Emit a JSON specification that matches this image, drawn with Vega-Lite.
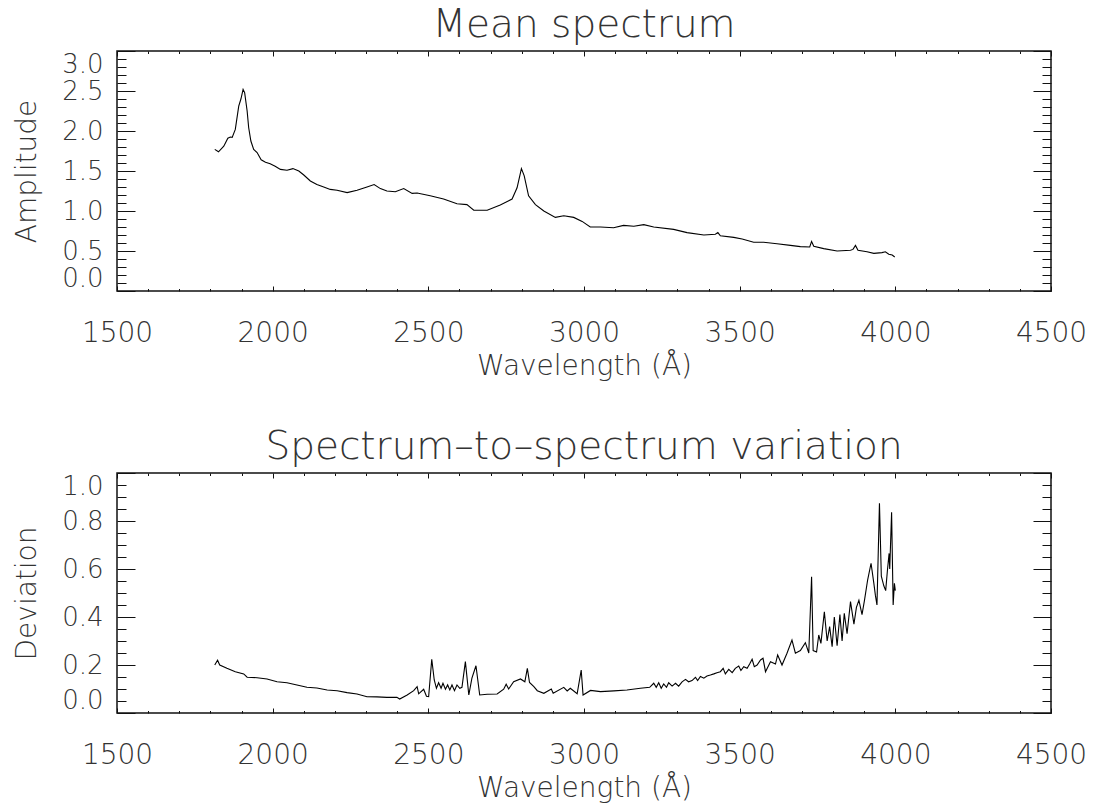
{
  "$schema": "https://vega.github.io/schema/vega-lite/v6.json",
  "padding": {"left": 12, "top": 4, "right": 5, "bottom": 5},
  "spacing": 45,
  "config": {
    "font": "DejaVu Sans",
    "view": {"stroke": "#111", "strokeWidth": 1.5},
    "axis": {"domain": false, "grid": false, "labelFont": "DejaVu Sans", "labelFontSize": 28, "labelFontWeight": 200, "labelColor": "#333", "titleFont": "DejaVu Sans", "titleFontSize": 28, "titleFontWeight": 200, "titleColor": "#333", "tickColor": "#111", "tickWidth": 1, "labelOverlap": false},
    "title": {"font": "DejaVu Sans", "fontSize": 39, "fontWeight": 200, "color": "#333", "offset": 6}
  },
  "datasets": {
    "mean": [
      {"w":1814,"a":1.77},{"w":1826,"a":1.74},{"w":1843,"a":1.81},{"w":1856,"a":1.91},{"w":1864,"a":1.925},{"w":1870,"a":1.92},{"w":1880,"a":2.02},{"w":1891,"a":2.31},{"w":1898,"a":2.40},{"w":1905,"a":2.52},{"w":1910,"a":2.48},{"w":1918,"a":2.25},{"w":1923,"a":2.04},{"w":1930,"a":1.875},{"w":1939,"a":1.77},{"w":1950,"a":1.73},{"w":1963,"a":1.64},{"w":1977,"a":1.61},{"w":1992,"a":1.59},{"w":2008,"a":1.56},{"w":2025,"a":1.52},{"w":2046,"a":1.51},{"w":2065,"a":1.53},{"w":2084,"a":1.50},{"w":2100,"a":1.45},{"w":2121,"a":1.375},{"w":2142,"a":1.33},{"w":2164,"a":1.30},{"w":2185,"a":1.27},{"w":2207,"a":1.26},{"w":2239,"a":1.23},{"w":2271,"a":1.26},{"w":2303,"a":1.30},{"w":2326,"a":1.33},{"w":2346,"a":1.28},{"w":2367,"a":1.25},{"w":2394,"a":1.24},{"w":2421,"a":1.28},{"w":2448,"a":1.22},{"w":2464,"a":1.225},{"w":2506,"a":1.19},{"w":2549,"a":1.15},{"w":2592,"a":1.09},{"w":2624,"a":1.08},{"w":2646,"a":1.01},{"w":2689,"a":1.01},{"w":2731,"a":1.075},{"w":2769,"a":1.15},{"w":2785,"a":1.29},{"w":2799,"a":1.53},{"w":2808,"a":1.44},{"w":2822,"a":1.19},{"w":2844,"a":1.08},{"w":2871,"a":1.00},{"w":2908,"a":0.92},{"w":2935,"a":0.94},{"w":2967,"a":0.92},{"w":2994,"a":0.87},{"w":3020,"a":0.80},{"w":3053,"a":0.80},{"w":3095,"a":0.79},{"w":3127,"a":0.82},{"w":3160,"a":0.81},{"w":3192,"a":0.83},{"w":3224,"a":0.80},{"w":3288,"a":0.77},{"w":3331,"a":0.73},{"w":3385,"a":0.70},{"w":3422,"a":0.71},{"w":3430,"a":0.73},{"w":3438,"a":0.69},{"w":3481,"a":0.67},{"w":3508,"a":0.65},{"w":3545,"a":0.61},{"w":3577,"a":0.61},{"w":3620,"a":0.59},{"w":3663,"a":0.57},{"w":3695,"a":0.555},{"w":3725,"a":0.55},{"w":3731,"a":0.62},{"w":3738,"a":0.56},{"w":3770,"a":0.53},{"w":3813,"a":0.50},{"w":3856,"a":0.51},{"w":3864,"a":0.52},{"w":3872,"a":0.57},{"w":3880,"a":0.51},{"w":3909,"a":0.49},{"w":3931,"a":0.47},{"w":3957,"a":0.48},{"w":3968,"a":0.49},{"w":3979,"a":0.46},{"w":3990,"a":0.45},{"w":3998,"a":0.425}
    ],
    "dev": [
      {"w":1814,"d":0.20},{"w":1823,"d":0.22},{"w":1830,"d":0.20},{"w":1853,"d":0.186},{"w":1880,"d":0.172},{"w":1907,"d":0.163},{"w":1918,"d":0.149},{"w":1950,"d":0.147},{"w":1982,"d":0.142},{"w":2014,"d":0.13},{"w":2046,"d":0.126},{"w":2078,"d":0.117},{"w":2110,"d":0.107},{"w":2142,"d":0.104},{"w":2175,"d":0.096},{"w":2207,"d":0.093},{"w":2239,"d":0.085},{"w":2271,"d":0.079},{"w":2303,"d":0.068},{"w":2335,"d":0.067},{"w":2367,"d":0.065},{"w":2399,"d":0.065},{"w":2408,"d":0.058},{"w":2432,"d":0.075},{"w":2453,"d":0.093},{"w":2464,"d":0.11},{"w":2469,"d":0.08},{"w":2485,"d":0.099},{"w":2494,"d":0.07},{"w":2501,"d":0.068},{"w":2511,"d":0.224},{"w":2519,"d":0.1375},{"w":2526,"d":0.103},{"w":2533,"d":0.126},{"w":2541,"d":0.103},{"w":2547,"d":0.124},{"w":2555,"d":0.099},{"w":2562,"d":0.117},{"w":2569,"d":0.096},{"w":2576,"d":0.117},{"w":2584,"d":0.093},{"w":2592,"d":0.117},{"w":2601,"d":0.103},{"w":2608,"d":0.107},{"w":2619,"d":0.214},{"w":2630,"d":0.075},{"w":2640,"d":0.145},{"w":2653,"d":0.197},{"w":2665,"d":0.075},{"w":2689,"d":0.078},{"w":2721,"d":0.079},{"w":2742,"d":0.099},{"w":2750,"d":0.12},{"w":2758,"d":0.10},{"w":2774,"d":0.13},{"w":2796,"d":0.142},{"w":2810,"d":0.13},{"w":2818,"d":0.186},{"w":2825,"d":0.127},{"w":2839,"d":0.11},{"w":2850,"d":0.093},{"w":2871,"d":0.082},{"w":2895,"d":0.10},{"w":2901,"d":0.082},{"w":2935,"d":0.107},{"w":2946,"d":0.092},{"w":2956,"d":0.103},{"w":2978,"d":0.08},{"w":2991,"d":0.179},{"w":2997,"d":0.075},{"w":3021,"d":0.094},{"w":3053,"d":0.089},{"w":3096,"d":0.092},{"w":3138,"d":0.096},{"w":3181,"d":0.103},{"w":3211,"d":0.107},{"w":3224,"d":0.124},{"w":3232,"d":0.107},{"w":3240,"d":0.126},{"w":3248,"d":0.103},{"w":3256,"d":0.121},{"w":3265,"d":0.107},{"w":3272,"d":0.126},{"w":3283,"d":0.112},{"w":3294,"d":0.124},{"w":3304,"d":0.112},{"w":3315,"d":0.13},{"w":3326,"d":0.14},{"w":3336,"d":0.13},{"w":3347,"d":0.135},{"w":3358,"d":0.149},{"w":3365,"d":0.135},{"w":3374,"d":0.152},{"w":3385,"d":0.145},{"w":3395,"d":0.154},{"w":3406,"d":0.158},{"w":3417,"d":0.163},{"w":3427,"d":0.168},{"w":3438,"d":0.172},{"w":3447,"d":0.186},{"w":3454,"d":0.163},{"w":3465,"d":0.182},{"w":3476,"d":0.168},{"w":3486,"d":0.186},{"w":3497,"d":0.196},{"w":3504,"d":0.177},{"w":3513,"d":0.193},{"w":3524,"d":0.186},{"w":3532,"d":0.204},{"w":3540,"d":0.224},{"w":3547,"d":0.193},{"w":3556,"d":0.2},{"w":3567,"d":0.221},{"w":3575,"d":0.228},{"w":3583,"d":0.172},{"w":3599,"d":0.214},{"w":3615,"d":0.204},{"w":3622,"d":0.242},{"w":3636,"d":0.2},{"w":3652,"d":0.249},{"w":3668,"d":0.304},{"w":3679,"d":0.249},{"w":3695,"d":0.26},{"w":3711,"d":0.293},{"w":3722,"d":0.25},{"w":3731,"d":0.568},{"w":3736,"d":0.26},{"w":3747,"d":0.254},{"w":3754,"d":0.325},{"w":3761,"d":0.29},{"w":3772,"d":0.422},{"w":3781,"d":0.3},{"w":3789,"d":0.36},{"w":3797,"d":0.276},{"w":3804,"d":0.4},{"w":3813,"d":0.28},{"w":3822,"d":0.41},{"w":3829,"d":0.3},{"w":3836,"d":0.415},{"w":3845,"d":0.33},{"w":3856,"d":0.464},{"w":3867,"d":0.37},{"w":3875,"d":0.44},{"w":3883,"d":0.47},{"w":3893,"d":0.41},{"w":3901,"d":0.47},{"w":3911,"d":0.554},{"w":3922,"d":0.624},{"w":3931,"d":0.54},{"w":3936,"d":0.49},{"w":3941,"d":0.45},{"w":3949,"d":0.874},{"w":3955,"d":0.57},{"w":3963,"d":0.53},{"w":3969,"d":0.51},{"w":3975,"d":0.6},{"w":3980,"d":0.665},{"w":3982,"d":0.6},{"w":3988,"d":0.836},{"w":3993,"d":0.45},{"w":3997,"d":0.54},{"w":4000,"d":0.51}
    ]
  },
  "vconcat": [
    {
      "width": 934, "height": 240,
      "title": "Mean spectrum",
      "data": {"name": "mean"},
      "layer": [
        {"mark": {"type": "line", "color": "#000", "strokeWidth": 1.1},
         "encoding": {
           "x": {"field": "w", "type": "quantitative", "scale": {"domain": [1500, 4500], "nice": false, "zero": false},
                 "axis": {"orient": "bottom", "values": [1500,2000,2500,3000,3500,4000,4500], "format": "d", "title": "Wavelength (Å)", "ticks": false, "labelFlush": false, "labelPadding": 28, "titlePadding": 5}},
           "y": {"field": "a", "type": "quantitative", "scale": {"domain": [0, 3], "nice": false},
                 "axis": {"orient": "left", "values": [0,0.5,1,1.5,2,2.5,3], "format": ".1f", "title": "Amplitude", "ticks": false, "labelFlush": true, "labelFontSize": 26, "labelPadding": 14, "titlePadding": 20}}}},
        {"mark": {"type": "line", "opacity": 0},
         "encoding": {
           "x": {"field": "w", "type": "quantitative", "axis": {"orient": "bottom", "values": [1500,2000,2500,3000,3500,4000,4500], "labels": false, "title": null, "tickSize": -5}},
           "y": {"field": "a", "type": "quantitative", "axis": {"orient": "left", "values": [0,0.5,1,1.5,2,2.5,3], "labels": false, "title": null, "tickSize": -18}}}},
        {"mark": {"type": "line", "opacity": 0},
         "encoding": {
           "x": {"field": "w", "type": "quantitative", "axis": {"orient": "bottom", "values": [1600,1700,1800,1900,2100,2200,2300,2400,2600,2700,2800,2900,3100,3200,3300,3400,3600,3700,3800,3900,4100,4200,4300,4400], "labels": false, "title": null, "tickSize": -2.5}},
           "y": {"field": "a", "type": "quantitative", "axis": {"orient": "left", "values": [0.1,0.2,0.3,0.4,0.6,0.7,0.8,0.9,1.1,1.2,1.3,1.4,1.6,1.7,1.8,1.9,2.1,2.2,2.3,2.4,2.6,2.7,2.8,2.9], "labels": false, "title": null, "tickSize": -9}}}},
        {"mark": {"type": "line", "opacity": 0},
         "encoding": {
           "x": {"field": "w", "type": "quantitative", "axis": {"orient": "top", "values": [1500,2000,2500,3000,3500,4000,4500], "labels": false, "title": null, "tickSize": -5}},
           "y": {"field": "a", "type": "quantitative", "axis": {"orient": "right", "values": [0,0.5,1,1.5,2,2.5,3], "labels": false, "title": null, "tickSize": -18}}}},
        {"mark": {"type": "line", "opacity": 0},
         "encoding": {
           "x": {"field": "w", "type": "quantitative", "axis": {"orient": "top", "values": [1600,1700,1800,1900,2100,2200,2300,2400,2600,2700,2800,2900,3100,3200,3300,3400,3600,3700,3800,3900,4100,4200,4300,4400], "labels": false, "title": null, "tickSize": -2.5}},
           "y": {"field": "a", "type": "quantitative", "axis": {"orient": "right", "values": [0.1,0.2,0.3,0.4,0.6,0.7,0.8,0.9,1.1,1.2,1.3,1.4,1.6,1.7,1.8,1.9,2.1,2.2,2.3,2.4,2.6,2.7,2.8,2.9], "labels": false, "title": null, "tickSize": -9}}}}
      ],
      "resolve": {"axis": {"x": "independent", "y": "independent"}}
    },
    {
      "width": 934, "height": 240,
      "title": "Spectrum–to–spectrum variation",
      "data": {"name": "dev"},
      "layer": [
        {"mark": {"type": "line", "color": "#000", "strokeWidth": 1.1},
         "encoding": {
           "x": {"field": "w", "type": "quantitative", "scale": {"domain": [1500, 4500], "nice": false, "zero": false},
                 "axis": {"orient": "bottom", "values": [1500,2000,2500,3000,3500,4000,4500], "format": "d", "title": "Wavelength (Å)", "ticks": false, "labelFlush": false, "labelPadding": 28, "titlePadding": 5}},
           "y": {"field": "d", "type": "quantitative", "scale": {"domain": [0, 1], "nice": false},
                 "axis": {"orient": "left", "values": [0,0.2,0.4,0.6,0.8,1], "format": ".1f", "title": "Deviation", "ticks": false, "labelFlush": true, "labelFontSize": 26, "labelPadding": 14, "titlePadding": 20}}}},
        {"mark": {"type": "line", "opacity": 0},
         "encoding": {
           "x": {"field": "w", "type": "quantitative", "axis": {"orient": "bottom", "values": [1500,2000,2500,3000,3500,4000,4500], "labels": false, "title": null, "tickSize": -5}},
           "y": {"field": "d", "type": "quantitative", "axis": {"orient": "left", "values": [0,0.2,0.4,0.6,0.8,1], "labels": false, "title": null, "tickSize": -18}}}},
        {"mark": {"type": "line", "opacity": 0},
         "encoding": {
           "x": {"field": "w", "type": "quantitative", "axis": {"orient": "bottom", "values": [1600,1700,1800,1900,2100,2200,2300,2400,2600,2700,2800,2900,3100,3200,3300,3400,3600,3700,3800,3900,4100,4200,4300,4400], "labels": false, "title": null, "tickSize": -2.5}},
           "y": {"field": "d", "type": "quantitative", "axis": {"orient": "left", "values": [0.05,0.1,0.15,0.25,0.3,0.35,0.45,0.5,0.55,0.65,0.7,0.75,0.85,0.9,0.95], "labels": false, "title": null, "tickSize": -9}}}},
        {"mark": {"type": "line", "opacity": 0},
         "encoding": {
           "x": {"field": "w", "type": "quantitative", "axis": {"orient": "top", "values": [1500,2000,2500,3000,3500,4000,4500], "labels": false, "title": null, "tickSize": -5}},
           "y": {"field": "d", "type": "quantitative", "axis": {"orient": "right", "values": [0,0.2,0.4,0.6,0.8,1], "labels": false, "title": null, "tickSize": -18}}}},
        {"mark": {"type": "line", "opacity": 0},
         "encoding": {
           "x": {"field": "w", "type": "quantitative", "axis": {"orient": "top", "values": [1600,1700,1800,1900,2100,2200,2300,2400,2600,2700,2800,2900,3100,3200,3300,3400,3600,3700,3800,3900,4100,4200,4300,4400], "labels": false, "title": null, "tickSize": -2.5}},
           "y": {"field": "d", "type": "quantitative", "axis": {"orient": "right", "values": [0.05,0.1,0.15,0.25,0.3,0.35,0.45,0.5,0.55,0.65,0.7,0.75,0.85,0.9,0.95], "labels": false, "title": null, "tickSize": -9}}}}
      ],
      "resolve": {"axis": {"x": "independent", "y": "independent"}}
    }
  ]
}
